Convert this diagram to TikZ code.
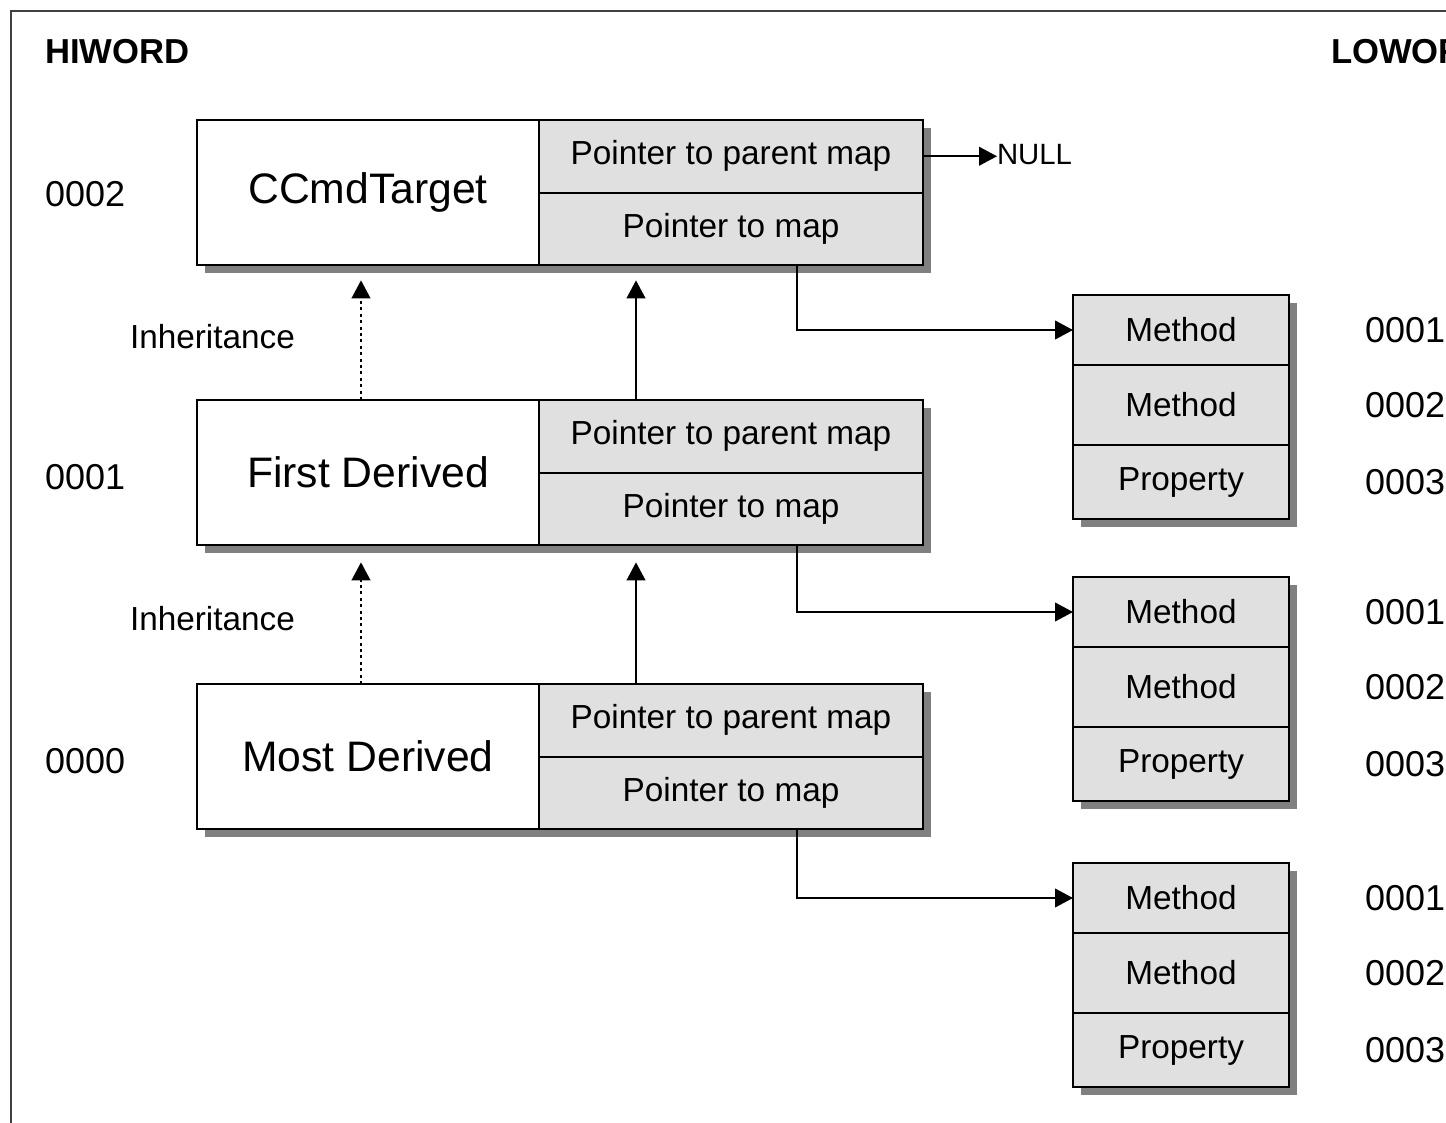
\documentclass[tikz,border=0pt]{standalone}
\usepackage{fontspec}
\setmainfont{Liberation Sans}
\usetikzlibrary{arrows.meta,calc}
\definecolor{cellgray}{HTML}{E0E0E0}
\definecolor{shadowgray}{HTML}{808080}
\definecolor{framegray}{HTML}{404040}
\pgfdeclarelayer{background}
\pgfsetlayers{background,main}

\begin{document}
\begin{tikzpicture}[x=0.75pt,y=-0.75pt,
  every node/.style={inner sep=0pt, outer sep=0pt},
  boxline/.style={draw=black, line width=1.5pt},
  namecell/.style={boxline, fill=white, anchor=north west,
    minimum width=256.5pt, minimum height=108.75pt,
    font=\fontsize{32}{38}\selectfont},
  ptrcell/.style={boxline, fill=cellgray, anchor=north west,
    minimum width=288pt, minimum height=54.375pt,
    font=\fontsize{25}{30}\selectfont},
  mapcell/.style={boxline, fill=cellgray, anchor=north west,
    minimum width=162pt, font=\fontsize{25}{30}\selectfont},
  heading/.style={anchor=west, font=\fontsize{26}{30}\selectfont\bfseries},
  smalllabel/.style={anchor=west, font=\fontsize{25}{30}\selectfont},
  numlabel/.style={anchor=west, font=\fontsize{27}{32}\selectfont},
  shadowfill/.style={fill=shadowgray},
  link/.style={line width=1.5pt, -{Triangle[length=13.5pt,width=14pt]}},
  inherit/.style={link, dash pattern=on 2.2pt off 2.6pt},
]
\useasboundingbox (0,0) rectangle (1446,1122);
\clip (0,0) rectangle (1446,1122);

% outer frame (open to the right and bottom)
\draw[framegray, line width=2pt] (11,1140) -- (11,11) -- (1460,11);

% column headings
\node[heading] (hi) at (45,52) {HIWORD};
\node[heading] (lo) at (1331,52) {LOWORD};

% class boxes: name cell plus two pointer cells
\node[namecell] (n1) at (197,120) {CCmdTarget};
\node[ptrcell] (pp1) at (n1.north east) {Pointer to parent map};
\node[ptrcell] (pm1) at (pp1.south west) {Pointer to map};

\node[namecell] (n2) at (197,400) {First Derived};
\node[ptrcell] (pp2) at (n2.north east) {Pointer to parent map};
\node[ptrcell] (pm2) at (pp2.south west) {Pointer to map};

\node[namecell] (n3) at (197,684) {Most Derived};
\node[ptrcell] (pp3) at (n3.north east) {Pointer to parent map};
\node[ptrcell] (pm3) at (pp3.south west) {Pointer to map};

% HIWORD values
\node[numlabel] (h2) at (45,194) {0002};
\node[numlabel] (h1) at (45,477) {0001};
\node[numlabel] (h0) at (45,761) {0000};

% message map entries
\foreach \m/\y in {a/295, b/577, c/863} {
  \node[mapcell, minimum height=52.5pt] (r\m1) at (1073,\y) {Method};
  \node[mapcell, minimum height=60pt] (r\m2) at (r\m1.south west) {Method};
  \node[mapcell, minimum height=55.5pt] (r\m3) at (r\m2.south west) {Property};
  \node[numlabel] (l\m1) at ([xshift=57pt]r\m1.east) {0001};
  \node[numlabel] (l\m2) at ([xshift=57pt]r\m2.east) {0002};
  \node[numlabel] (l\m3) at ([xshift=57pt]r\m3.east) {0003};
}

% drop shadows
\begin{pgfonlayer}{background}
  \foreach \a/\b in {n1/pm1, n2/pm2, n3/pm3, ra1/ra3, rb1/rb3, rc1/rc3}
    \fill[shadowfill] ([shift={(8,8)}]\a.north west) rectangle ([shift={(8,8)}]\b.south east);
\end{pgfonlayer}

% parent map of the base class
\node[anchor=west, font=\fontsize{22}{26}\selectfont] (null) at (997,155) {NULL};
\draw[link] (pp1.east) -- (pp1.east -| null.west);

% inheritance and parent-map pointers
\node[smalllabel] (inh1) at (130,337) {Inheritance};
\node[smalllabel] (inh2) at (130,619) {Inheritance};
\draw[inherit, shorten >=11.5pt] ([xshift=-5.25pt]n2.north) -- ([xshift=-5.25pt]n1.south);
\draw[link, shorten >=11.5pt] ([xshift=72.75pt]pp2.north west) -- ([xshift=72.75pt]pm1.south west);
\draw[inherit, shorten >=13pt] ([xshift=-5.25pt]n3.north) -- ([xshift=-5.25pt]n2.south);
\draw[link, shorten >=13pt] ([xshift=72.75pt]pp3.north west) -- ([xshift=72.75pt]pm2.south west);

% map pointers
\draw[link] ([xshift=49.5pt]pm1.south) |- (ra1.west);
\draw[link] ([xshift=49.5pt]pm2.south) |- (rb1.west);
\draw[link] ([xshift=49.5pt]pm3.south) |- (rc1.west);
\end{tikzpicture}
\end{document}
